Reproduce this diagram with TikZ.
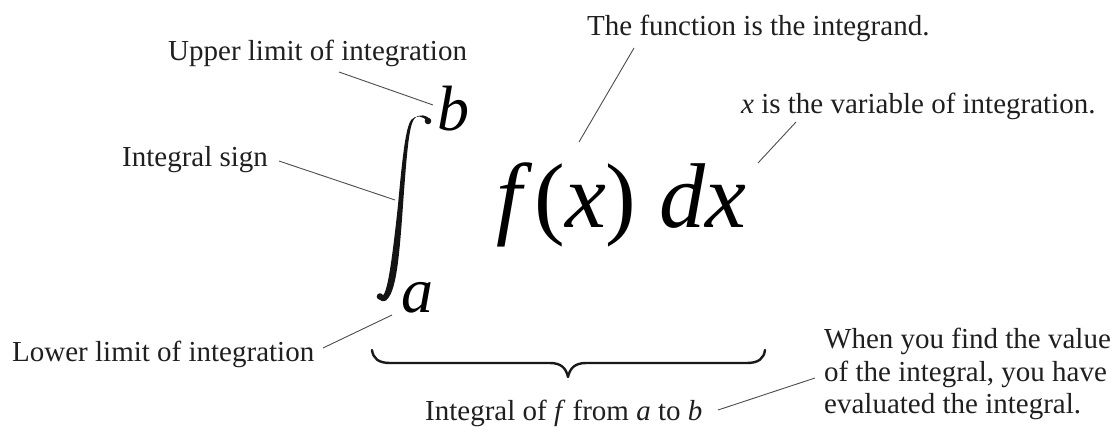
\documentclass[tikz,border=0pt]{standalone}
\usepackage{fontspec}
\setmainfont{Liberation Serif}[ItalicFont={Liberation Serif Italic}]
\begin{document}
\begin{tikzpicture}[x=1pt,y=-1pt,
  lbl/.style={inner sep=0pt, anchor=base west, font=\fontsize{29}{32.5}\selectfont, text=black!88},
  big/.style={inner sep=0pt, anchor=base west, text=black},
  lead/.style={draw=black!70, line width=0.9pt},
  bracestyle/.style={draw=black!90, line width=2.4pt, line cap=round, line join=round},
  ink/.style={fill=black!92}
]
\useasboundingbox (0,0) rectangle (1114,426);

% labels
\node[lbl] (upper) at (168,60) {Upper limit of integration};
\node[lbl] (sign) at (122,166) {Integral sign};
\node[lbl] (lower) at (12,361) {Lower limit of integration};
\node[lbl] (func) at (587,35) {The function is the integrand.};
\node[lbl] (var) at (741,113) {\textit{x} is the variable of integration.};
\node[lbl] (fab) at (425,420) {Integral of \textit{f} from \textit{a} to \textit{b}};
\node[lbl, anchor=north west, align=left] (eval) at (824,328) {When you find the value\\of the integral, you have\\evaluated the integral.};

% formula
\node[big, font=\fontsize{64}{64}\selectfont\itshape] (b) at (437,130) {b};
\node[big, font=\fontsize{64}{64}\selectfont\itshape] (a) at (401,312) {a};
\node[big, font=\fontsize{92}{92}\selectfont] (fx) at (496,227) {\textit{f}\kern2pt(\textit{x}) \textit{dx}};

% integral sign
\fill[ink] (428,121) circle (3.3);
\fill[ink] (380,296.5) circle (3.3);
\fill[ink] (430,120) .. controls (428,115) and (419,113) .. (414,119)
  .. controls (409,127) and (407,150) .. (403,205)
  .. controls (399,262) and (396,292) .. (386,300.5)
  .. controls (383,302) and (380,301) .. (379,299)
  -- (381,297) .. controls (386,296) and (390,280) .. (398,205)
  .. controls (403,150) and (406,128) .. (411,120)
  .. controls (415,115) and (424,115) .. (427,122) -- cycle;

% brace
\draw[bracestyle] (372,350) .. controls (373,358) and (378,363) .. (390,363) -- (550,363)
  .. controls (561,363) and (566,368) .. (568,377)
  .. controls (570,368) and (575,363) .. (586,363) -- (747,363)
  .. controls (759,363) and (764,358) .. (765,350);

% connector endpoints
\coordinate (upperS) at (339,72);
\coordinate (upperE) at (433,105);
\coordinate (signS) at (279,161);
\coordinate (signE) at (395,200);
\coordinate (lowerS) at (323,348);
\coordinate (lowerE) at (392,315);
\coordinate (funcS) at (634,48);
\coordinate (funcE) at (579,142);
\coordinate (varS) at (796,122);
\coordinate (varE) at (758,163);
\coordinate (fabS) at (718,410);
\coordinate (fabE) at (815,378);

\draw[lead] (upperS) -- (upperE);
\draw[lead] (signS) -- (signE);
\draw[lead] (lowerS) -- (lowerE);
\draw[lead] (funcS) -- (funcE);
\draw[lead] (varS) -- (varE);
\draw[lead] (fabS) -- (fabE);
\end{tikzpicture}
\end{document}
